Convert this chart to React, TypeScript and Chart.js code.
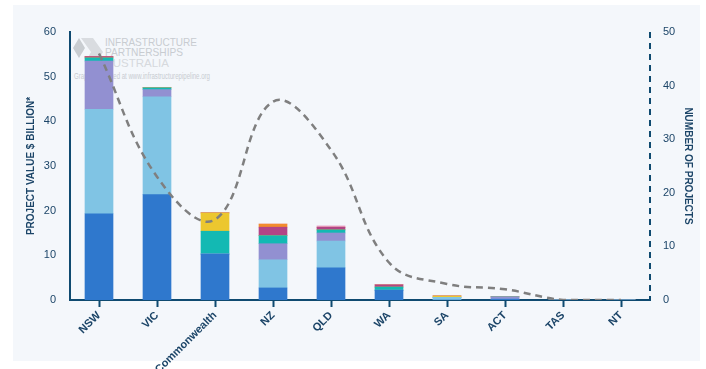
import React, { useEffect, useRef } from "react";
import { Chart, registerables } from "chart.js";

Chart.register(...registerables);

const categories = ["NSW", "VIC", "Commonwealth", "NZ", "QLD", "WA", "SA", "ACT", "TAS", "NT"];

// stacked project value segments ($ billion), bottom to top
const seriesBlue = [19.3, 23.6, 10.3, 2.7, 7.2, 2.2, 0, 0.2, 0, 0];
const seriesLightBlue = [23.4, 21.9, 0, 6.3, 6.0, 0, 0.6, 0, 0, 0];
const seriesPurple = [10.8, 1.6, 0, 3.6, 1.8, 0, 0, 0.5, 0, 0];
const seriesTeal = [0.7, 0.4, 5.1, 1.8, 0.7, 0.7, 0, 0, 0, 0];
const seriesYellow = [0, 0, 4.1, 0, 0, 0, 0.3, 0, 0, 0];
const seriesMagenta = [0.3, 0, 0, 1.9, 0.6, 0.5, 0, 0, 0, 0];
const seriesOrange = [0, 0, 0, 0.7, 0, 0, 0, 0, 0, 0];
const seriesPink = [0, 0, 0, 0, 0.3, 0, 0, 0, 0, 0];

// number of projects (right axis)
const projectCounts = [46, 23, 15, 37, 28, 7, 3, 2, 0, 0];

const leftTitle = "PROJECT VALUE $ BILLION*";
const rightTitle = "NUMBER OF PROJECTS";

const NAVY = "#0f4a70";
const TEXT = "#1c4568";
const FONT = "'Liberation Sans', Arial, Helvetica, sans-serif";

const dashedRightAxis = {
  id: "dashedRightAxis",
  afterDatasetsDraw(chart: any) {
    const s = chart.scales.y1;
    if (!s) return;
    const ctx = chart.ctx;
    ctx.save();
    ctx.strokeStyle = NAVY;
    ctx.lineWidth = 2;
    ctx.setLineDash([6, 5]);
    ctx.beginPath();
    ctx.moveTo(s.left, s.top);
    ctx.lineTo(s.left, s.bottom);
    ctx.stroke();
    ctx.restore();
  },
};

export default function App() {
  const canvasRef = useRef<HTMLCanvasElement | null>(null);

  useEffect(() => {
    if (!canvasRef.current) return;
    const barSets: [number[], string][] = [
      [seriesBlue, "#2f78cd"],
      [seriesLightBlue, "#80c4e4"],
      [seriesPurple, "#9290d1"],
      [seriesTeal, "#13b9b3"],
      [seriesYellow, "#ecc72f"],
      [seriesMagenta, "#b24586"],
      [seriesOrange, "#f28c2e"],
      [seriesPink, "#e9a7cf"],
    ];
    const datasets: any[] = barSets.map(([d, c], i) => ({
      type: "bar",
      label: "s" + i,
      data: d,
      backgroundColor: c,
      yAxisID: "y",
      barThickness: 28,
      order: 1,
    }));
    datasets.push({
      type: "line",
      label: "projects",
      data: projectCounts,
      yAxisID: "y1",
      borderColor: "#7f7f7f",
      borderWidth: 2.5,
      borderDash: [7, 5],
      pointRadius: 0,
      tension: 0.4,
      fill: false,
      order: 0,
    });

    const chart = new Chart(canvasRef.current, {
      type: "bar",
      data: { labels: categories, datasets },
      plugins: [dashedRightAxis],
      options: {
        animation: false,
        responsive: false,
        maintainAspectRatio: false,
        layout: { padding: { top: 32, left: 0, right: 0, bottom: 0 } },
        plugins: { legend: { display: false }, tooltip: { enabled: false } },
        scales: {
          x: {
            stacked: true,
            z: 1,
            afterFit: (s: any) => { s.height = 69; },
            grid: {
              display: true,
              drawOnChartArea: false,
              offset: false,
              drawTicks: true,
              tickLength: 7,
              tickColor: NAVY,
              tickWidth: 2,
            },
            border: { display: true, color: NAVY, width: 2 },
            ticks: {
              minRotation: 45,
              maxRotation: 45,
              padding: 2,
              color: TEXT,
              font: { family: FONT, size: 11, weight: "bold" },
            },
          },
          y: {
            position: "left",
            stacked: true,
            min: 0,
            max: 60,
            afterFit: (s: any) => { s.width = 70; },
            grid: { display: false, drawTicks: false },
            border: { display: true, color: NAVY, width: 2 },
            ticks: {
              stepSize: 10,
              padding: 14,
              color: TEXT,
              font: { family: FONT, size: 11 },
            },
            title: {
              display: true,
              text: leftTitle,
              color: TEXT,
              padding: { top: 25, bottom: 0 },
              font: { family: FONT, size: 10, weight: "bold" },
            },
          },
          y1: {
            position: "right",
            stacked: false,
            min: 0,
            max: 50,
            afterFit: (s: any) => { s.width = 56; },
            grid: { display: false, drawTicks: false },
            border: { display: false },
            ticks: {
              stepSize: 10,
              padding: 13,
              color: TEXT,
              font: { family: FONT, size: 11 },
            },
            title: {
              display: true,
              text: rightTitle,
              color: TEXT,
              padding: { top: 12, bottom: 0 },
              font: { family: FONT, size: 10, weight: "bold" },
            },
          },
        },
      } as any,
    });
    return () => chart.destroy();
  }, []);

  return (
    <div style={{ position: "absolute", left: 0, top: 0, width: 706, height: 369, background: "#ffffff" }}>
      <div style={{ position: "absolute", left: 13, top: 5, width: 687, height: 356, background: "#f4f7fb" }} />
      <svg width={706} height={369} style={{ position: "absolute", left: 0, top: 0 }}>
        <polygon points="73,48 79,38 85,48 79,58" fill="#c9cdd1" />
        <polygon points="81,38 93,38 103,52 97,63 85,63 91,52" fill="#d9dce0" />
        <g fontFamily={FONT} fill="#c8ccd1">
          <text x={105} y={46} fontSize={11} textLength={92} lengthAdjust="spacingAndGlyphs">INFRASTRUCTURE</text>
          <text x={105} y={56} fontSize={11} textLength={78} lengthAdjust="spacingAndGlyphs">PARTNERSHIPS</text>
          <text x={105} y={67} fontSize={11} fill="#d6d9dd" textLength={64} lengthAdjust="spacingAndGlyphs">AUSTRALIA</text>
          <text x={74} y={79} fontSize={8.5} textLength={136} lengthAdjust="spacingAndGlyphs">Graph generated at www.infrastructurepipeline.org</text>
        </g>
      </svg>
      <canvas ref={canvasRef} width={706} height={369} style={{ position: "absolute", left: 0, top: 0, width: 706, height: 369 }} />
    </div>
  );
}
